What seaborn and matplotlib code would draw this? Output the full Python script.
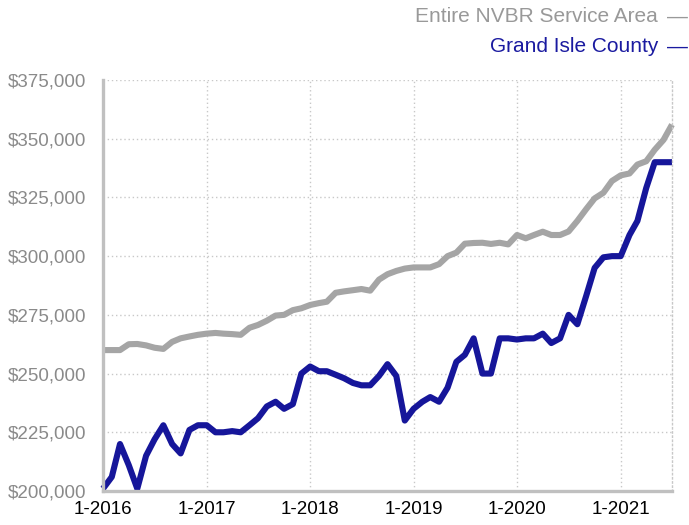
import numpy as np
import pandas as pd
import matplotlib
matplotlib.use("Agg")
import matplotlib.pyplot as plt
import matplotlib.ticker as mticker
import seaborn as sns

#%% Dati (prezzo mediano mensile, 1-2016 .. 7-2021)
months = pd.date_range("2016-01-01", periods=67, freq="MS")

nvbr = [260000, 260000, 260000, 262500, 262600, 262000, 261000, 260500, 263500, 265000,
        265800, 266500, 267000, 267300, 267000, 266800, 266500, 269500, 270700, 272500,
        274700, 275000, 277000, 277800, 279200, 280000, 280600, 284400, 285000, 285500,
        286000, 285300, 290000, 292300, 293700, 294700, 295200, 295200, 295200, 296600,
        300000, 301500, 305300, 305600, 305700, 305200, 305700, 305000, 309000, 307600,
        309000, 310400, 309000, 309000, 310500, 315000, 320000, 324600, 327000, 332000,
        334400, 335200, 339000, 340400, 345300, 349500, 356000]

grand_isle = [201000, 206000, 220000, 211000, 201000, 215000, 222000, 228000, 220000, 216000,
              226000, 228000, 228000, 225000, 225000, 225500, 225000, 228000, 231000, 236000,
              238000, 235000, 237000, 250000, 253000, 251000, 251000, 249500, 248000, 246000,
              245000, 245000, 249000, 254000, 249000, 230000, 235000, 238000, 240000, 238000,
              244000, 255000, 258000, 265000, 250000, 250000, 265000, 265000, 264500, 265000,
              265000, 267000, 263000, 265000, 275000, 271000, 283000, 295000, 299500, 300000,
              300000, 309000, 315000, 329000, 340000, 340000, 340000]

series_names = ["Entire NVBR Service Area", "Grand Isle County"]
colori = {"Entire NVBR Service Area": "#a5a5a5", "Grand Isle County": "#16169a"}
colori_testo = {"Entire NVBR Service Area": "#999999", "Grand Isle County": "#1a1aa0"}

df = pd.DataFrame({
    "mese": list(months) * 2,
    "prezzo": nvbr + grand_isle,
    "serie": [series_names[0]] * len(nvbr) + [series_names[1]] * len(grand_isle),
})

#%% Grafico
sns.set_style("white")
plt.rcParams["font.family"] = ["Liberation Sans", "DejaVu Sans"]

fig = plt.figure(figsize=(6.89, 5.25), dpi=100)
ax = fig.add_axes([103 / 689, 1 - 491 / 525, (672 - 103) / 689, (491 - 80) / 525])

sns.lineplot(data=df, x="mese", y="prezzo", hue="serie", palette=colori,
             linewidth=4.4, legend=False, ax=ax, solid_capstyle="butt",
             solid_joinstyle="round")
for l in ax.lines:
    l.set_clip_on(False)

ax.set_xlim(months[0], months[-1])
ax.set_ylim(200000, 375000)
ax.yaxis.set_major_locator(mticker.MultipleLocator(25000))
ax.yaxis.set_major_formatter(mticker.FuncFormatter(lambda v, p: f"${v:,.0f}"))

anni = [pd.Timestamp(f"{y}-01-01") for y in range(2016, 2022)]
ax.set_xticks(anni)
ax.set_xticklabels([f"1-{d.year}" for d in anni])

ax.grid(True, color="#c8c8c8", linestyle=(0, (1, 2)), linewidth=1)
ax.set_axisbelow(True)
ax.set_xlabel("")
ax.set_ylabel("")

for s in ["left", "bottom"]:
    ax.spines[s].set_color("#c0c0c0")
    ax.spines[s].set_linewidth(2.4)
ax.spines["top"].set_visible(False)
ax.spines["right"].set_color("#c8c8c8")
ax.spines["right"].set_linestyle((0, (1, 2)))
ax.spines["right"].set_linewidth(1)

ax.tick_params(axis="x", colors="#c0c0c0", length=5, width=2.4, labelcolor="black",
               labelsize=13.5, pad=2)
ax.tick_params(axis="y", length=0, labelcolor="#8a8a8a", labelsize=13.5, pad=12)

# legenda in alto a destra
for nome, ypix in zip(series_names, [17, 47]):
    fig.text(658 / 689, 1 - ypix / 525, nome, ha="right", va="center",
             color=colori_testo[nome], fontsize=15)
    fig.text(677 / 689, 1 - ypix / 525, "\u2014", ha="center", va="center",
             color=colori_testo[nome], fontsize=15)

fig.savefig("out.png", dpi=100)
